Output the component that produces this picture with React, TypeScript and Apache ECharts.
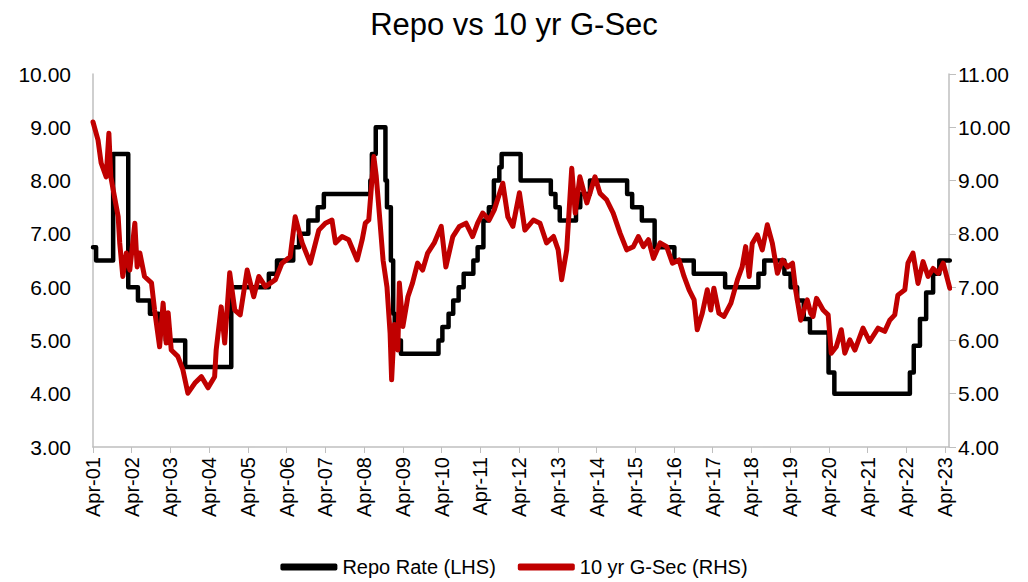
import React, { useEffect, useRef } from "react";
import * as echarts from "echarts";

// Repo rate change points: [decimal calendar year, rate %]
const repoYears = [
  2001.25, 2001.33, 2001.77, 2002.16, 2002.41, 2002.72, 2002.95, 2003.13, 2003.63,
  2004.82, 2005.79, 2006.0, 2006.42, 2006.57, 2006.81, 2007.05, 2007.21,
  2008.41, 2008.45, 2008.55, 2008.8, 2008.84, 2008.94, 2009.0, 2009.04, 2009.2,
  2010.17, 2010.27, 2010.43, 2010.55, 2010.69, 2010.82, 2011.07, 2011.18,
  2011.33, 2011.47, 2011.6, 2011.74, 2011.8, 2012.29, 2013.07, 2013.19, 2013.3,
  2013.72, 2013.83, 2014.08, 2015.04, 2015.17, 2015.42, 2015.75, 2016.26, 2016.76,
  2017.57, 2018.43, 2018.58, 2019.1, 2019.26, 2019.43, 2019.6, 2019.76, 2020.24,
  2020.39, 2022.34, 2022.44, 2022.6, 2022.76, 2022.94, 2023.1, 2023.37,
];
const repoRates = [
  6.75, 6.5, 8.5, 6.0, 5.75, 5.5, 5.25, 5.0, 4.5,
  6.0, 6.25, 6.5, 6.75, 7.0, 7.25, 7.5, 7.75,
  8.0, 8.5, 9.0, 8.0, 7.5, 6.5, 5.5, 5.0, 4.75,
  5.0, 5.25, 5.5, 5.75, 6.0, 6.25, 6.5, 6.75,
  7.25, 7.5, 8.0, 8.25, 8.5, 8.0, 7.75, 7.5, 7.25,
  7.5, 7.75, 8.0, 7.75, 7.5, 7.25, 6.75, 6.5, 6.25,
  6.0, 6.25, 6.5, 6.25, 6.0, 5.75, 5.4, 5.15, 4.4,
  4.0, 4.4, 4.9, 5.4, 5.9, 6.25, 6.5, 6.5,
];

// 10 yr G-Sec yield readings: years since Apr-2001, yield %
const gsecT = [
  0.0, 0.13, 0.21, 0.34, 0.41, 0.46, 0.65, 0.69, 0.77, 0.86, 0.95, 1.08, 1.14, 1.21,
  1.33, 1.51, 1.59, 1.72, 1.81, 1.89, 1.94, 2.02, 2.19, 2.32, 2.45, 2.63, 2.8, 2.97,
  3.14, 3.18, 3.31, 3.4, 3.53, 3.66, 3.8, 3.98, 4.15, 4.28, 4.45, 4.71, 4.88, 5.09,
  5.22, 5.4, 5.61, 5.83, 6.0, 6.17, 6.26, 6.43, 6.6, 6.82, 6.95, 7.03, 7.12, 7.25,
  7.31, 7.39, 7.49, 7.59, 7.67, 7.71, 7.78, 7.87, 7.91, 8.0, 8.13, 8.25, 8.38, 8.51,
  8.64, 8.81, 8.99, 9.11, 9.29, 9.46, 9.63, 9.8, 9.93, 10.06, 10.23, 10.36, 10.58,
  10.71, 10.84, 11.01, 11.15, 11.37, 11.54, 11.71, 11.89, 12.01, 12.1, 12.23, 12.36,
  12.45, 12.57, 12.75, 12.96, 13.09, 13.26, 13.43, 13.61, 13.78, 13.95, 14.08, 14.21,
  14.34, 14.47, 14.64, 14.81, 14.96, 15.13, 15.26, 15.39, 15.52, 15.6, 15.73, 15.86,
  15.95, 16.03, 16.16, 16.29, 16.47, 16.64, 16.76, 16.85, 16.94, 17.02, 17.15, 17.28,
  17.41, 17.54, 17.67, 17.8, 17.93, 18.06, 18.14, 18.27, 18.44, 18.53, 18.59, 18.68,
  18.85, 18.98, 19.06, 19.19, 19.32, 19.41, 19.54, 19.67, 19.88, 20.05, 20.27, 20.44,
  20.57, 20.7, 20.78, 20.96, 21.04, 21.17, 21.3, 21.43, 21.56, 21.69, 21.82, 21.95, 22.12,
];
const gsecYield = [
  10.1, 9.76, 9.33, 9.07, 9.89, 9.07, 8.32, 7.83, 7.2, 7.64, 7.32, 8.2, 7.38, 7.64,
  7.2, 7.08, 6.57, 5.88, 6.7, 5.95, 6.52, 5.82, 5.7, 5.45, 5.01, 5.2, 5.32, 5.11,
  5.32, 5.82, 6.63, 5.95, 7.27, 6.57, 6.48, 7.32, 6.82, 7.2, 7.01, 7.14, 7.45, 7.57,
  8.32, 7.83, 7.45, 8.07, 8.2, 8.26, 7.83, 7.95, 7.89, 7.51, 7.89, 8.2, 8.26, 9.45,
  9.1, 8.4, 7.5, 7.0, 6.14, 5.26, 6.3, 5.82, 7.08, 6.26, 6.82, 7.08, 7.45, 7.32,
  7.64, 7.83, 8.14, 7.38, 7.95, 8.14, 8.2, 7.95, 8.2, 8.39, 8.26, 8.45, 8.95,
  8.32, 8.14, 8.77, 8.07, 8.26, 8.2, 7.83, 7.95, 7.7, 7.14, 7.7, 9.23,
  8.39, 9.07, 8.58, 9.07, 8.76, 8.64, 8.39, 8.01, 7.7, 7.76, 7.95, 7.76,
  7.89, 7.54, 7.83, 7.76, 7.45, 7.51, 7.2, 6.95, 6.76, 6.2, 6.51, 6.95,
  6.57, 6.98, 6.51, 6.45, 6.7, 7.14, 7.38, 7.76, 7.2, 7.82, 7.98, 7.7,
  8.17, 7.82, 7.26, 7.51, 7.38, 7.45, 6.95, 6.38, 6.76, 6.51, 6.45, 6.79,
  6.57, 6.48, 5.76, 5.88, 6.2, 5.76, 6.01, 5.82, 6.23, 5.98, 6.23, 6.17,
  6.38, 6.48, 6.85, 6.95, 7.45, 7.64, 7.07, 7.48, 7.2, 7.35, 7.26, 7.45, 6.98,
];

const yearLabels = [
  "Apr-01", "Apr-02", "Apr-03", "Apr-04", "Apr-05", "Apr-06", "Apr-07", "Apr-08",
  "Apr-09", "Apr-10", "Apr-11", "Apr-12", "Apr-13", "Apr-14", "Apr-15", "Apr-16",
  "Apr-17", "Apr-18", "Apr-19", "Apr-20", "Apr-21", "Apr-22", "Apr-23",
];

const FONT = "'Liberation Sans Narrow', 'Liberation Sans', sans-serif";

export default function App() {
  const ref = useRef<HTMLDivElement>(null);
  useEffect(() => {
    if (!ref.current) return;
    const chart = echarts.init(ref.current, undefined, { renderer: "svg" });
    const repoData = repoYears.map((y, i) => [y - 2001.25, repoRates[i]]);
    const gsecData = gsecT.map((t, i) => [t, gsecYield[i]]);
    chart.setOption({
      animation: false,
      backgroundColor: "#ffffff",
      textStyle: { fontFamily: FONT },
      title: {
        text: "Repo vs 10 yr G-Sec",
        left: "center",
        top: 4,
        textStyle: { fontFamily: FONT, fontSize: 31, fontWeight: "normal", color: "#000" },
      },
      grid: { left: 93, right: 79, top: 74, bottom: 135 },
      legend: {
        bottom: 0,
        left: "center",
        itemWidth: 57,
        itemHeight: 7,
        itemGap: 22,
        icon: "roundRect",
        textStyle: { fontFamily: FONT, fontSize: 20, color: "#000" },
        data: ["Repo Rate (LHS)", "10 yr G-Sec (RHS)"],
      },
      xAxis: {
        type: "value",
        min: 0,
        max: 22.1,
        interval: 1,
        axisLine: { show: true, lineStyle: { color: "#bfbfbf", width: 1.5 } },
        axisTick: { show: true, length: 6, lineStyle: { color: "#bfbfbf" } },
        splitLine: { show: false },
        axisLabel: {
          rotate: 90,
          margin: 10,
          fontFamily: FONT,
          fontSize: 20,
          color: "#000",
          showMaxLabel: false,
          formatter: (v: number) => {
            const i = Math.round(v);
            return Math.abs(v - i) < 1e-6 && yearLabels[i] ? yearLabels[i] : "";
          },
        },
      },
      yAxis: [
        {
          type: "value",
          min: 3,
          max: 10,
          interval: 1,
          position: "left",
          axisLine: { show: true, lineStyle: { color: "#bfbfbf", width: 1.5 } },
          axisTick: { show: false },
          splitLine: { show: false },
          axisLabel: {
            margin: 22,
            fontFamily: FONT,
            fontSize: 21,
            color: "#000",
            formatter: (v: number) => v.toFixed(2),
          },
        },
        {
          type: "value",
          min: 4,
          max: 11,
          interval: 1,
          position: "right",
          axisLine: { show: true, lineStyle: { color: "#bfbfbf", width: 1.5 } },
          axisTick: { show: true, inside: false, length: 7, lineStyle: { color: "#bfbfbf" } },
          splitLine: { show: false },
          axisLabel: {
            margin: 9,
            fontFamily: FONT,
            fontSize: 21,
            color: "#000",
            formatter: (v: number) => v.toFixed(2),
          },
        },
      ],
      series: [
        {
          name: "Repo Rate (LHS)",
          type: "line",
          yAxisIndex: 0,
          step: "end",
          data: repoData,
          showSymbol: false,
          symbol: "none",
          itemStyle: { color: "#000000" },
          lineStyle: { color: "#000000", width: 4.5, join: "round", cap: "round" },
          z: 2,
        },
        {
          name: "10 yr G-Sec (RHS)",
          type: "line",
          yAxisIndex: 1,
          data: gsecData,
          showSymbol: false,
          symbol: "none",
          itemStyle: { color: "#c00000" },
          lineStyle: { color: "#c00000", width: 5, join: "round", cap: "round" },
          z: 3,
        },
      ],
    });
    return () => chart.dispose();
  }, []);
  return <div ref={ref} style={{ width: 1028, height: 582, position: "absolute", left: 0, top: 0 }} />;
}
